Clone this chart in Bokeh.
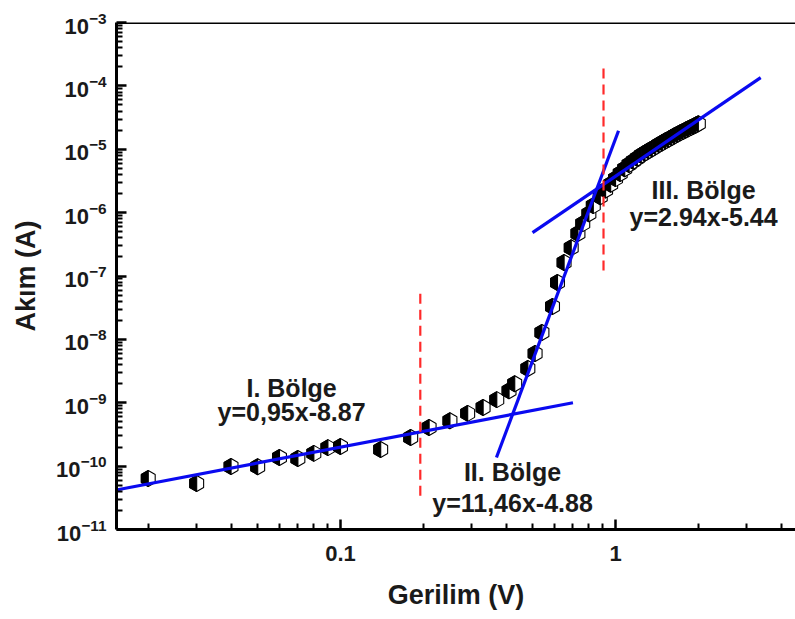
import math
from bokeh.plotting import figure
from bokeh.models import (Range1d, FixedTicker, CustomJSTickFormatter, LogTickFormatter,
                          Label, Span, ColumnDataSource)
from bokeh.embed import file_html
from bokeh.resources import INLINE

# ---------------- data ----------------
voltage = [0.02, 0.03, 0.04, 0.05, 0.06, 0.07, 0.08, 0.09, 0.10, 0.14,
           0.18, 0.21, 0.25, 0.29, 0.33, 0.37, 0.41, 0.43, 0.48, 0.51,
           0.54, 0.59, 0.615, 0.65, 0.69, 0.73, 0.76, 0.80, 0.83, 0.88,
           0.92, 0.96, 1.00, 1.04, 1.08, 1.12, 1.16, 1.20, 1.24, 1.28,
           1.32, 1.36, 1.40, 1.44, 1.48, 1.52, 1.56, 1.60, 1.64, 1.68,
           1.72, 1.76, 1.80, 1.84, 1.88, 1.92, 1.96, 2.00]
current = [6.4e-11, 5.3e-11, 9.9e-11, 9.8e-11, 1.37e-10, 1.32e-10, 1.59e-10, 1.96e-10, 2.04e-10, 1.83e-10,
           2.83e-10, 4.06e-10, 5.2e-10, 6.8e-10, 8.4e-10, 1.12e-9, 1.55e-9, 2.0e-9, 3.47e-9, 5.97e-9,
           1.28e-8, 3.3e-8, 7.9e-8, 1.63e-7, 2.8e-7, 4.67e-7, 6.7e-7, 9.6e-7, 1.29e-6, 1.78e-6,
           2.28e-6, 2.81e-6, 3.44e-6, 4.13e-6, 4.93e-6, 5.75e-6, 6.46e-6, 7.23e-6, 8.05e-6, 8.75e-6,
           9.46e-6, 1.02e-5, 1.10e-5, 1.19e-5, 1.27e-5, 1.36e-5, 1.44e-5, 1.53e-5, 1.63e-5, 1.72e-5,
           1.82e-5, 1.91e-5, 2.01e-5, 2.11e-5, 2.21e-5, 2.31e-5, 2.42e-5, 2.52e-5]

# fit lines (end points)
fit1_v = [0.0153, 0.70]
fit1_i = [4.2e-11, 1.0e-9]
fit2_v = [0.369, 1.025]
fit2_i = [1.37e-10, 1.96e-5]
fit3_v = [0.499, 3.37]
fit3_i = [4.84e-7, 1.35e-4]

# region boundaries (red dashed)
bound1_v = [0.195, 0.195]
bound1_i = [3.4e-11, 5.9e-8]
bound2_v = [0.904, 0.904]
bound2_i = [1.22e-7, 1.94e-4]

x_major = [0.1, 1]
x_minor = [0.02, 0.03, 0.04, 0.05, 0.06, 0.07, 0.08, 0.09,
           0.2, 0.3, 0.4, 0.5, 0.6, 0.7, 0.8, 0.9, 2, 3, 4]
y_major = [1e-11, 1e-10, 1e-9, 1e-8, 1e-7, 1e-6, 1e-5, 1e-4, 1e-3]

region_labels = [("I. Bölge", "y=0,95x-8.87"),
                 ("II. Bölge", "y=11,46x-4.88"),
                 ("III. Bölge", "y=2.94x-5.44")]
x_title = "Gerilim (V)"
y_title = "Akım (A)"

# ---------------- figure ----------------
X0, X1 = 0.01533, 4.51
Y0, Y1 = 1e-11, 1e-3
W, H = 795, 619
BL, BR, BT, BB = 116, 0, 22, 90

p = figure(width=W, height=H, x_axis_type="log", y_axis_type="log",
           x_range=Range1d(X0, X1), y_range=Range1d(Y0, Y1),
           output_backend="svg", toolbar_location=None,
           min_border_left=BL, min_border_right=BR, min_border_top=BT, min_border_bottom=BB)
p.background_fill_color = "white"
p.border_fill_color = "white"
p.outline_line_color = None
p.grid.visible = False

# marker shapes (pointy-top hexagon, left half black) built around each data point
frame_w = W - BL - BR
frame_h = H - BT - BB
kx = (math.log10(X1) - math.log10(X0)) / frame_w
ky = (math.log10(Y1) - math.log10(Y0)) / frame_h
r = 8.0
w = r * math.sqrt(3) / 2
hex_off = [(0, r), (w, r / 2), (w, -r / 2), (0, -r), (-w, -r / 2), (-w, r / 2)]
half_off = [(0, r), (-w, r / 2), (-w, -r / 2), (0, -r)]
xs, ys, fills = [], [], []
for v, c in zip(voltage, current):
    for offs, col in ((hex_off, "white"), (half_off, "black")):
        xs.append([v * 10 ** (dx * kx) for dx, dy in offs])
        ys.append([c * 10 ** (dy * ky) for dx, dy in offs])
        fills.append(col)
src = ColumnDataSource(dict(xs=xs, ys=ys, fill=fills))
p.patches("xs", "ys", source=src, fill_color="fill", line_color="black", line_width=1.1)

blue = "#0a0af0"
red = "#ff2a2a"
for vx, iy in ((fit1_v, fit1_i), (fit2_v, fit2_i), (fit3_v, fit3_i)):
    p.line(vx, iy, line_color=blue, line_width=3.2)
for vx, iy in ((bound1_v, bound1_i), (bound2_v, bound2_i)):
    p.line(vx, iy, line_color=red, line_width=2.2, line_dash="10 6")

# top border of the frame
p.add_layout(Span(location=Y1, dimension="width", line_color="black", line_width=3))

# ---------------- axes ----------------
font = "Liberation Sans"
xa = p.xaxis[0]
xa.ticker = FixedTicker(ticks=x_major, minor_ticks=x_minor)
xa.formatter = CustomJSTickFormatter(code="return tick.toString()")
ya = p.yaxis[0]
ya.ticker = FixedTicker(ticks=y_major,
                        minor_ticks=[k * 10.0 ** e for e in range(-11, -3) for k in range(2, 10)])
ya.formatter = LogTickFormatter()
for ax in (xa, ya):
    ax.axis_line_width = 3
    ax.axis_line_color = "black"
    ax.major_tick_in = 10
    ax.major_tick_out = 0
    ax.minor_tick_in = 6
    ax.minor_tick_out = 0
    ax.major_tick_line_width = 2.5
    ax.minor_tick_line_width = 2
    ax.major_tick_line_color = "black"
    ax.minor_tick_line_color = "black"
    ax.major_label_text_font = font
    ax.major_label_text_font_style = "bold"
    ax.major_label_text_font_size = "22px"
    ax.major_label_text_color = "#1a1a1a"
    ax.axis_label_text_font = font
    ax.axis_label_text_font_style = "bold"
    ax.axis_label_text_font_size = "27px"
    ax.axis_label_text_color = "#1a1a1a"
xa.axis_label = x_title
ya.axis_label = y_title
xa.major_label_standoff = 16
xa.axis_label_standoff = 16
ya.major_label_standoff = 10
ya.axis_label_standoff = 12

# ---------------- region labels ----------------
label_pos = [((0.0664, 1.74e-9), (0.0664, 7.27e-10)),
             ((0.422, 8.2e-11), (0.422, 2.58e-11)),
             ((2.09, 2.31e-6), (2.09, 8.65e-7))]
for (t1, t2), ((x1, y1), (x2, y2)) in zip(region_labels, label_pos):
    for t, x, y in ((t1, x1, y1), (t2, x2, y2)):
        p.add_layout(Label(x=x, y=y, text=t, text_align="center", text_baseline="alphabetic",
                           text_font=font, text_font_style="bold", text_font_size="25px",
                           text_color="#1a1a1a"))

open("out.html", "w").write(file_html(p, INLINE))
